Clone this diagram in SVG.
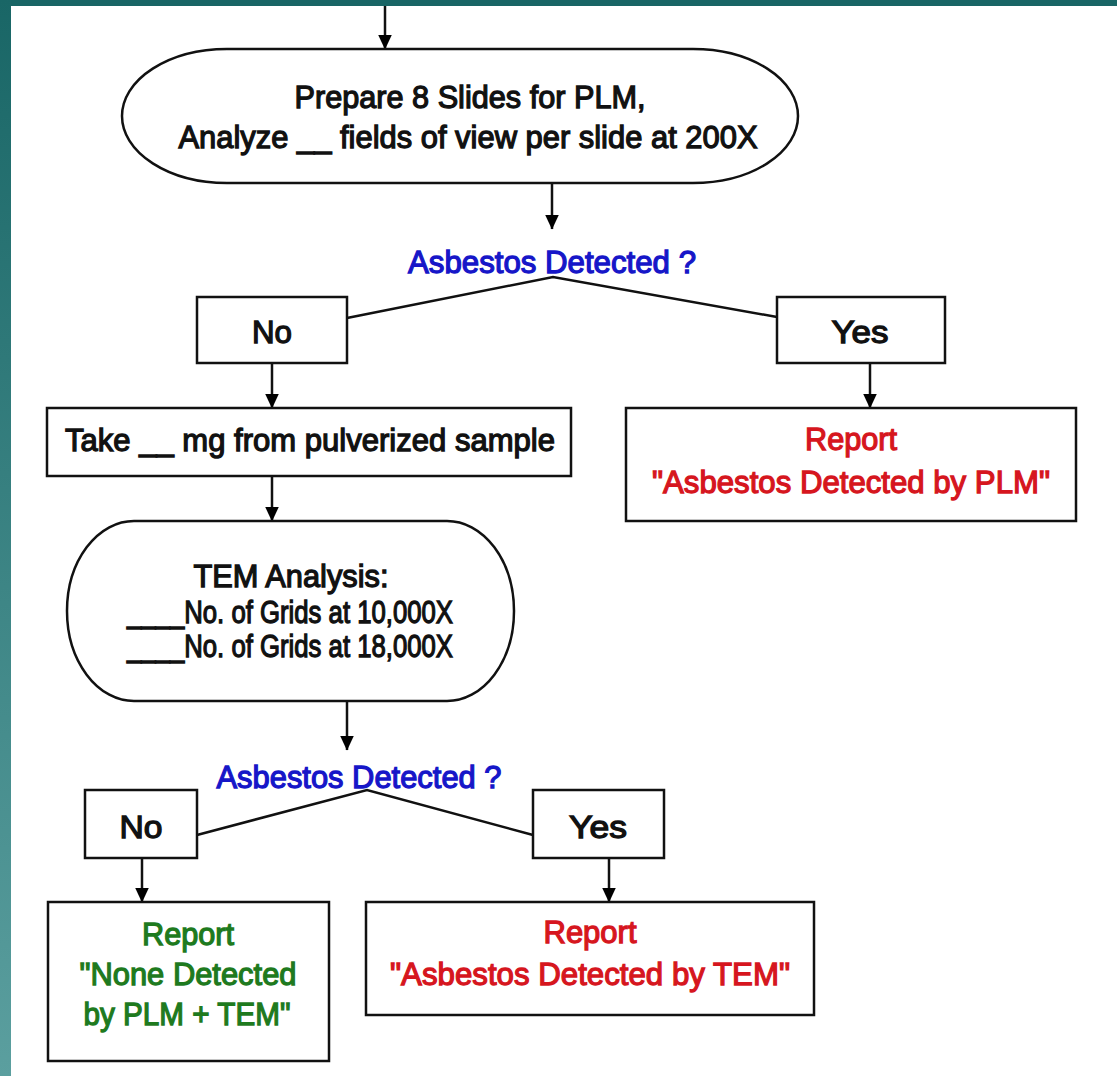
<svg xmlns="http://www.w3.org/2000/svg" width="1117" height="1076" viewBox="0 0 1117 1076">
<defs>
<linearGradient id="side" x1="0" y1="0" x2="0" y2="1">
<stop offset="0" stop-color="#196666"/>
<stop offset="1" stop-color="#5b9f9f"/>
</linearGradient>
<marker id="arr" viewBox="0 0 15 14" refX="14.5" refY="7" markerWidth="15" markerHeight="14" markerUnits="userSpaceOnUse" orient="auto">
<path d="M0,0 L15,7 L0,14 Z" fill="#000"/>
</marker>
</defs>
<style>
.box{fill:#fff;stroke:#111;stroke-width:2.5}
.t{font-family:"Liberation Sans",Arial,sans-serif;font-size:32px;text-anchor:middle;fill:#111;stroke:#111;stroke-width:1.3}
.blue{fill:#1616c8;stroke:#1616c8}
.red{fill:#d6161e;stroke:#d6161e}
.green{fill:#1e7a1e;stroke:#1e7a1e}
.con{stroke:#111;stroke-width:2.5;fill:none}
</style>
<rect x="0" y="0" width="1117" height="1076" fill="#fff"/>
<rect x="0" y="0" width="1117" height="6" fill="#186565"/>
<rect x="0" y="0" width="11" height="1076" fill="url(#side)"/>

<g id="connectors">
<line class="con" x1="385" y1="6" x2="385" y2="49" marker-end="url(#arr)"/>
<line class="con" x1="552" y1="183" x2="552" y2="229" marker-end="url(#arr)"/>
<polyline class="con" points="347,318 553,277 777,317"/>
<line class="con" x1="272" y1="363" x2="272" y2="408" marker-end="url(#arr)"/>
<line class="con" x1="870" y1="363" x2="870" y2="408" marker-end="url(#arr)"/>
<line class="con" x1="272" y1="476" x2="272" y2="521" marker-end="url(#arr)"/>
<line class="con" x1="347" y1="701" x2="347" y2="750" marker-end="url(#arr)"/>
<polyline class="con" points="197,835 367,790 533,835"/>
<line class="con" x1="142" y1="858" x2="142" y2="902" marker-end="url(#arr)"/>
<line class="con" x1="609" y1="858" x2="609" y2="902" marker-end="url(#arr)"/>
</g>

<g id="prepare">
<rect class="box" x="122" y="49" width="676" height="134" rx="105" ry="67"/>
<text class="t" x="470" y="108" font-size="30" textLength="351" lengthAdjust="spacingAndGlyphs">Prepare 8 Slides for PLM,</text>
<text class="t" x="468" y="148" font-size="30" textLength="579" lengthAdjust="spacingAndGlyphs">Analyze __ fields of view per slide at 200X</text>
</g>

<g id="decision1">
<text class="t blue" x="552" y="273" font-size="33" textLength="288" lengthAdjust="spacingAndGlyphs">Asbestos Detected ?</text>
</g>

<g id="no1">
<rect class="box" x="197" y="297" width="150" height="66"/>
<text class="t" x="272" y="343" font-size="38" textLength="40" lengthAdjust="spacingAndGlyphs">No</text>
</g>

<g id="yes1">
<rect class="box" x="777" y="297" width="168" height="66"/>
<text class="t" x="860" y="343" font-size="38" textLength="57" lengthAdjust="spacingAndGlyphs">Yes</text>
</g>

<g id="take">
<rect class="box" x="47" y="408" width="524" height="68"/>
<text class="t" x="310" y="451" font-size="31" textLength="490" lengthAdjust="spacingAndGlyphs">Take __ mg from pulverized sample</text>
</g>

<g id="reportPLM">
<rect class="box" x="626" y="408" width="450" height="113"/>
<text class="t red" x="851" y="450" font-size="34" textLength="92" lengthAdjust="spacingAndGlyphs">Report</text>
<text class="t red" x="851" y="493" font-size="34" textLength="398" lengthAdjust="spacingAndGlyphs">"Asbestos Detected by PLM"</text>
</g>

<g id="tem">
<rect class="box" x="67" y="521" width="447" height="180" rx="67" ry="90"/>
<text class="t" x="291" y="587" font-size="31" textLength="195" lengthAdjust="spacingAndGlyphs">TEM Analysis:</text>
<text class="t" x="290" y="623" font-size="29" textLength="326" lengthAdjust="spacingAndGlyphs">____No. of Grids at 10,000X</text>
<text class="t" x="290" y="657" font-size="29" textLength="326" lengthAdjust="spacingAndGlyphs">____No. of Grids at 18,000X</text>
</g>

<g id="decision2">
<text class="t blue" x="359" y="788" font-size="33" textLength="285" lengthAdjust="spacingAndGlyphs">Asbestos Detected ?</text>
</g>

<g id="no2">
<rect class="box" x="85" y="790" width="112" height="68"/>
<text class="t" x="141" y="838" font-size="35" textLength="43" lengthAdjust="spacingAndGlyphs">No</text>
</g>

<g id="yes2">
<rect class="box" x="533" y="790" width="131" height="68"/>
<text class="t" x="598" y="838" font-size="35" textLength="58" lengthAdjust="spacingAndGlyphs">Yes</text>
</g>

<g id="reportNone">
<rect class="box" x="48" y="902" width="281" height="159"/>
<text class="t green" x="188" y="945" font-size="33" textLength="92" lengthAdjust="spacingAndGlyphs">Report</text>
<text class="t green" x="188" y="985" font-size="33" textLength="217" lengthAdjust="spacingAndGlyphs">"None Detected</text>
<text class="t green" x="187" y="1025" font-size="33" textLength="207" lengthAdjust="spacingAndGlyphs">by PLM + TEM"</text>
</g>

<g id="reportTEM">
<rect class="box" x="366" y="902" width="448" height="113"/>
<text class="t red" x="590" y="943" font-size="34" textLength="93" lengthAdjust="spacingAndGlyphs">Report</text>
<text class="t red" x="590" y="985" font-size="34" textLength="400" lengthAdjust="spacingAndGlyphs">"Asbestos Detected by TEM"</text>
</g>
</svg>
